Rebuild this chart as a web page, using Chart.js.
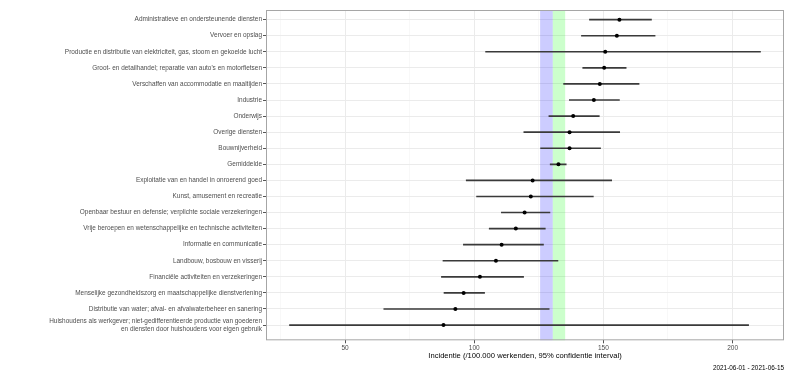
<!DOCTYPE html>
<html>
<head>
<meta charset="utf-8">
<script src="https://cdn.jsdelivr.net/npm/chart.js@4"></script>
<style>
  html, body { margin: 0; padding: 0; background: #fff; }
</style>
</head>
<body>
<canvas id="incChart" width="800" height="376"></canvas>
<script>
// sectoren, van boven naar beneden
const sectors = [
    'Administratieve en ondersteunende diensten',
    'Vervoer en opslag',
    'Productie en distributie van elektriciteit, gas, stoom en gekoelde lucht',
    "Groot- en detailhandel; reparatie van auto's en motorfietsen",
    'Verschaffen van accommodatie en maaltijden',
    'Industrie',
    'Onderwijs',
    'Overige diensten',
    'Bouwnijverheid',
    'Gemiddelde',
    'Exploitatie van en handel in onroerend goed',
    'Kunst, amusement en recreatie',
    'Openbaar bestuur en defensie; verplichte sociale verzekeringen',
    'Vrije beroepen en wetenschappelijke en technische activiteiten',
    'Informatie en communicatie',
    'Landbouw, bosbouw en visserij',
    'Financiële activiteiten en verzekeringen',
    'Menselijke gezondheidszorg en maatschappelijke dienstverlening',
    'Distributie van water; afval- en afvalwaterbeheer en sanering',
    ['Huishoudens als werkgever; niet-gedifferentieerde productie van goederen',
     'en diensten door huishoudens voor eigen gebruik']
];
const estimate = [156.2, 155.2, 150.7, 150.3, 148.6, 146.3, 138.3, 136.9, 136.9, 132.6,
                  122.6, 121.9, 119.5, 116.1, 110.6, 108.4, 102.2, 95.9, 92.7, 88.1];
const lower    = [144.6, 141.5, 104.4, 142.0, 134.6, 136.8, 128.9, 119.2, 125.7, 129.4,
                  96.9, 100.9, 110.5, 105.8, 95.8, 87.9, 87.3, 88.3, 65.0, 28.5];
const upper    = [168.6, 170.0, 210.8, 158.8, 163.8, 156.2, 148.4, 156.3, 148.9, 135.6,
                  153.2, 146.1, 129.3, 127.5, 126.8, 132.4, 119.1, 104.0, 129.0, 206.2];

const xTicks = [25, 50, 75, 100, 125, 150, 175, 200];
const xLabelled = [50, 100, 150, 200];
const xRange = [19.4, 219.9];
const bandBlue = [125.5, 130.4];
const bandGreen = [130.4, 135.2];
const period = '2021-06-01 - 2021-06-15';

Chart.defaults.font.family = "'Liberation Sans', Arial, sans-serif";

// banden en paneelrand
const panelPlugin = {
    id: 'panel',
    beforeDatasetsDraw(chart) {
        const {ctx, chartArea, scales} = chart;
        const x = scales.x;
        ctx.save();
        [[bandBlue, 'rgba(0, 0, 255, 0.2)'], [bandGreen, 'rgba(0, 255, 0, 0.2)']].forEach(([b, c]) => {
            const x0 = x.getPixelForValue(b[0]);
            const x1 = x.getPixelForValue(b[1]);
            ctx.fillStyle = c;
            ctx.fillRect(x0, chartArea.top, x1 - x0, chartArea.bottom - chartArea.top);
        });
        ctx.restore();
    },
    afterDatasetsDraw(chart) {
        const {ctx, chartArea} = chart;
        ctx.save();
        ctx.strokeStyle = '#a6a6a6';
        ctx.lineWidth = 1;
        ctx.strokeRect(chartArea.left + 0.5, chartArea.top + 0.5,
            chartArea.right - chartArea.left - 1, chartArea.bottom - chartArea.top - 1);
        ctx.restore();
    }
};

const ctx = document.getElementById('incChart').getContext('2d');
new Chart(ctx, {
    type: 'bar',
    data: {
        datasets: [{
            type: 'line',
            showLine: false,
            data: estimate.map((v, i) => ({x: v, y: i})),
            pointRadius: 2,
            pointBackgroundColor: '#000',
            pointBorderWidth: 0,
            order: 0
        }, {
            type: 'bar',
            data: sectors.map((_, i) => ({x: [lower[i], upper[i]], y: i})),
            backgroundColor: '#3a3a3a',
            barThickness: 1,
            order: 1
        }]
    },
    options: {
        indexAxis: 'y',
        responsive: false,
        animation: false,
        layout: { padding: { top: 10, right: 16, left: 0, bottom: 0 } },
        scales: {
            x: {
                type: 'linear',
                min: xRange[0],
                max: xRange[1],
                afterBuildTicks: s => { s.ticks = xTicks.map(v => ({value: v})); },
                afterFit: s => { s.height = 22; },
                ticks: {
                    autoSkip: false,
                    maxRotation: 0,
                    padding: 1,
                    color: '#4d4d4d',
                    font: { size: 6.5 },
                    callback: v => xLabelled.includes(v) ? v : ''
                },
                grid: {
                    color: c => xLabelled.includes(c.tick.value) ? '#ebebeb' : '#f4f4f4',
                    lineWidth: c => xLabelled.includes(c.tick.value) ? 1 : 0.6,
                    tickColor: c => xLabelled.includes(c.tick.value) ? '#555' : 'rgba(0,0,0,0)',
                    tickLength: 3
                },
                border: { display: false },
                title: {
                    display: true,
                    text: 'Incidentie (/100.000 werkenden, 95% confidentie interval)',
                    color: '#000',
                    font: { size: 7.6 },
                    padding: { top: 0, bottom: 2 }
                }
            },
            y: {
                type: 'linear',
                reverse: true,
                offset: false,
                min: -0.6,
                max: 19.95,
                afterBuildTicks: s => { s.ticks = sectors.map((_, i) => ({value: i})); },
                afterFit: s => { s.width = 266; },
                ticks: {
                    autoSkip: false,
                    padding: 1,
                    color: '#4d4d4d',
                    font: { size: 6.45, lineHeight: 1.2 },
                    callback: v => sectors[v]
                },
                grid: {
                    offset: false,
                    color: '#ebebeb',
                    tickColor: '#555',
                    tickLength: 3
                },
                border: { display: false }
            }
        },
        plugins: {
            legend: { display: false },
            tooltip: { enabled: false },
            subtitle: {
                display: true,
                text: period,
                position: 'bottom',
                align: 'end',
                color: '#000',
                font: { size: 6.4, weight: 'normal' },
                padding: { top: 2, bottom: 4 }
            }
        }
    },
    plugins: [panelPlugin]
});
</script>
</body>
</html>
